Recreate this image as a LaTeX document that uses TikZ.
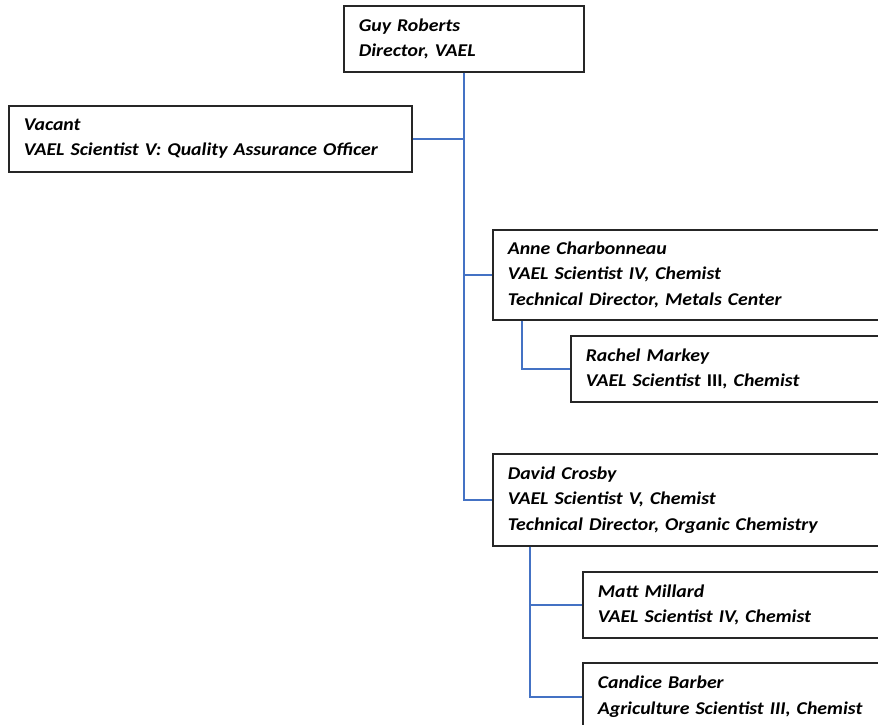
\documentclass[tikz,border=0pt]{standalone}
\usepackage{fontspec}
\setmainfont{Carlito}[FakeStretch=1.1]
\definecolor{linkblue}{HTML}{4472C4}
\begin{document}
\begin{tikzpicture}[x=1pt,y=1pt,
  box/.style={draw=black!85, line width=1.6pt, rectangle, anchor=north west,
    inner xsep=15pt, inner ysep=0pt, align=left,
    font=\fontsize{18}{25.5}\selectfont\bfseries\itshape},
  link/.style={draw=linkblue, line width=1.6pt}]
\useasboundingbox (0,0) rectangle (878,-725);
\clip (0,0) rectangle (878,-725);
\node[box, minimum width=240pt, minimum height=66pt, text width=210pt] (guy) at (343,-5)
  {Guy Roberts\\Director, VAEL};
\node[box, minimum width=403pt, minimum height=66pt, text width=373pt] (vacant) at (8,-105)
  {Vacant\\VAEL Scientist V: Quality Assurance Officer};
\node[box, minimum width=420pt, minimum height=90pt, text width=390pt] (anne) at (492,-229)
  {Anne Charbonneau\\VAEL Scientist IV, Chemist\\Technical Director, Metals Center};
\node[box, minimum width=340pt, minimum height=66pt, text width=310pt] (rachel) at (570,-335)
  {Rachel Markey\\VAEL Scientist {\upshape III}, Chemist};
\node[box, minimum width=420pt, minimum height=92pt, text width=390pt] (david) at (492,-453)
  {David Crosby\\VAEL Scientist V, Chemist\\Technical Director, Organic Chemistry};
\node[box, minimum width=340pt, minimum height=66pt, text width=310pt] (matt) at (582,-571)
  {Matt Millard\\VAEL Scientist IV, Chemist};
\node[box, minimum width=340pt, minimum height=68pt, text width=310pt] (candice) at (582,-662)
  {Candice Barber\\Agriculture Scientist III, Chemist};
\path[link] (guy.south) |- (david.west);
\path[link] (guy.south) |- (anne.west);
\path[link] (vacant.east) -| (guy.south);
\path[link] ([xshift=30pt]anne.south west) |- (rachel.west);
\path[link] ([xshift=38pt]david.south west) |- (matt.west);
\path[link] ([xshift=38pt]david.south west) |- (candice.west);
\end{tikzpicture}
\end{document}
